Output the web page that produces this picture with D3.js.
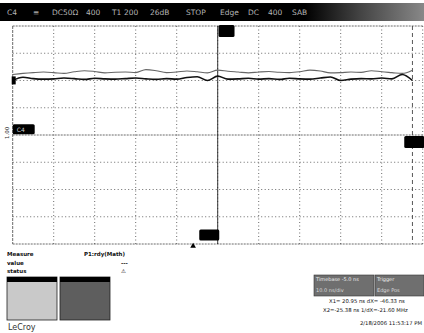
<!DOCTYPE html>
<html>
<head>
<meta charset="utf-8">
<script src="https://cdn.jsdelivr.net/npm/d3@7"></script>
<style>
  body { margin: 0; background: #fff; }
  svg { display: block; font-family: "DejaVu Sans", sans-serif; }
</style>
</head>
<body>
<svg id="scope" width="424" height="333"></svg>
<script>
// sample times (ns) and the two traces (mV)
const timeNs = [-50, -47.5, -45, -42.5, -40, -37.5, -35, -32.5, -30, -27.5,
  -25, -22.5, -20, -17.5, -15, -12.5, -10, -7.5, -5, -2.5,
  0, 2.5, 5, 7.5, 10, 12.5, 15, 17.5, 20, 22.5,
  25, 27.5, 30, 32.5, 35, 37.5, 40, 42.5, 45, 47.5];
const traceUpper = [222, 226, 229, 231, 229, 226, 232, 236, 233, 228,
  230, 231, 229, 240, 236, 229, 231, 235, 232, 228,
  238, 234, 231, 228, 231, 233, 230, 229, 232, 238,
  235, 228, 229, 231, 230, 236, 232, 229, 226, 238];
const traceLower = [200, 212, 207, 205, 206, 209, 207, 204, 208, 206,
  205, 207, 209, 206, 204, 207, 205, 211, 214, 200,
  216, 205, 206, 208, 205, 207, 204, 208, 206, 205,
  209, 213, 200, 205, 207, 206, 209, 206, 222, 200];

const xTicks = [-50, -40, -30, -20, -10, 0, 10, 20, 30, 40, 50];
const yTicks = [-400, -300, -200, -100, 0, 100, 200, 300, 400];

const headerTokens = ["C4", "\u2261", "DC50\u03a9", "400", "T1", "200", "26dB", "STOP", "Edge", "DC", "400", "SAB"];
const measureRows = [["Measure", "P1:rdy(Math)"], ["value", "---"], ["status", "\u26a0"]];
const cursorLines = ["X1= 20.95 ns    dX= -46.33 ns", "X2=-25.38 ns   1/dX=-21.60 MHz"];
const stamp = "2/18/2006 11:53:17 PM";

const svg = d3.select("#scope");
const x = d3.scaleLinear().domain([-50, 50]).range([12.7, 422.7]);
const y = d3.scaleLinear().domain([-400, 400]).range([244, 26]);

// header bar
const defs = svg.append("defs");
const grad = defs.append("linearGradient").attr("id", "hdr");
grad.append("stop").attr("offset", "0.72").attr("stop-color", "#000");
grad.append("stop").attr("offset", "0.85").attr("stop-color", "#444");
grad.append("stop").attr("offset", "1").attr("stop-color", "#888");
svg.append("rect").attr("x", 0).attr("y", 3).attr("width", 424).attr("height", 18).attr("fill", "url(#hdr)");
const hx = [7, 33, 52, 86, 112, 124, 150, 186, 220, 248, 268, 292];
svg.append("g").selectAll("text").data(headerTokens).join("text")
  .attr("x", (d, i) => hx[i]).attr("y", 15)
  .attr("fill", "#b5b5b5").attr("font-size", 7.5)
  .text(d => d);

// grid
const grid = svg.append("g").attr("stroke", "#444").attr("stroke-width", 0.8);
grid.selectAll("line.v").data(xTicks).join("line").attr("class", "v")
  .attr("x1", d => x(d)).attr("x2", d => x(d)).attr("y1", y(400)).attr("y2", y(-400))
  .attr("stroke-dasharray", d => d === -50 ? "3,1" : "1,2.5");
grid.selectAll("line.h").data(yTicks).join("line").attr("class", "h")
  .attr("y1", d => y(d)).attr("y2", d => y(d)).attr("x1", x(-50)).attr("x2", x(50))
  .attr("stroke-dasharray", d => (d === 400 || d === -400 || d === 0) ? "2,1" : "1,2.5");

// trigger time line and cursor
svg.append("line").attr("x1", x(0)).attr("x2", x(0)).attr("y1", y(400)).attr("y2", y(-400))
  .attr("stroke", "#222").attr("stroke-width", 0.9);
svg.append("line").attr("x1", x(47.5)).attr("x2", x(47.5)).attr("y1", y(400)).attr("y2", y(-400))
  .attr("stroke", "#444").attr("stroke-width", 0.9).attr("stroke-dasharray", "4,3");

// traces
const line = d3.line().x((d, i) => x(timeNs[i])).y(d => y(d)).curve(d3.curveMonotoneX);
svg.append("path").attr("d", line(traceUpper)).attr("fill", "none")
  .attr("stroke", "#666").attr("stroke-width", 1.1);
svg.append("path").attr("d", line(traceLower)).attr("fill", "none")
  .attr("stroke", "#111").attr("stroke-width", 1.6);

// channel markers
const markers = [
  { t: 0.2, v: 382, w: 16, h: 12 },
  { t: -4.5, v: -367, w: 20, h: 11 },
  { t: -50, v: 21, w: 22, h: 10 },
  { t: 45.5, v: -26, w: 20, h: 12 }
];
svg.append("g").selectAll("rect").data(markers).join("rect")
  .attr("x", d => x(d.t)).attr("y", d => y(d.v) - d.h / 2)
  .attr("width", d => d.w).attr("height", d => d.h).attr("rx", 1.5).attr("fill", "#000");
svg.append("rect").attr("x", x(-50) - 1).attr("y", y(215)).attr("width", 4).attr("height", 8).attr("fill", "#000");
svg.append("text").attr("x", x(-50) + 4).attr("y", y(21) + 2.5).attr("fill", "#ccc")
  .attr("font-size", 6).text("C4");
svg.append("path").attr("d", d3.symbol(d3.symbolTriangle, 14)())
  .attr("transform", `translate(${x(-6)},${y(-400) + 2})`).attr("fill", "#000");
svg.append("text").attr("transform", `translate(9,${y(-15)}) rotate(-90)`)
  .attr("font-size", 5.5).attr("fill", "#333").text("1.00");

// measurement table
const mt = svg.append("g").attr("font-size", 5.5).attr("font-weight", "bold").attr("fill", "#111");
measureRows.forEach((r, i) => {
  mt.append("text").attr("x", 7).attr("y", 256 + i * 8.5).text(r[0]);
  mt.append("text").attr("x", i === 0 ? 84 : 121).attr("y", 256 + i * 8.5).text(r[1]);
});

// zoom thumbnails
const thumbs = [{ x0: 7, fill: "#c9c9c9" }, { x0: 60, fill: "#5e5e5e" }];
svg.append("g").selectAll("rect.th").data(thumbs).join("rect").attr("class", "th")
  .attr("x", d => d.x0).attr("y", 277).attr("width", 50).attr("height", 43)
  .attr("fill", d => d.fill).attr("stroke", "#222").attr("stroke-width", 0.8);
svg.append("g").selectAll("rect.hd").data(thumbs).join("rect").attr("class", "hd")
  .attr("x", d => d.x0).attr("y", 277).attr("width", 50).attr("height", 5).attr("fill", "#000");

svg.append("text").attr("x", 8).attr("y", 330).attr("font-size", 8).attr("fill", "#333").text("LeCroy");

// timebase / trigger boxes
const boxes = [{ x0: 314, w: 60 }, { x0: 375, w: 49 }];
svg.append("g").selectAll("rect").data(boxes).join("rect")
  .attr("x", d => d.x0).attr("y", 275).attr("width", d => d.w).attr("height", 21)
  .attr("fill", "#6f6f6f").attr("stroke", "#333").attr("stroke-width", 0.6);
const boxText = [["Timebase -5.0 ns", "10.0 ns/div"], ["Trigger", "Edge Pos"]];
boxes.forEach((b, i) => {
  svg.append("text").attr("x", b.x0 + 2).attr("y", 281).attr("font-size", 5).attr("fill", "#eee").text(boxText[i][0]);
  svg.append("text").attr("x", b.x0 + 2).attr("y", 292).attr("font-size", 5).attr("fill", "#ddd").text(boxText[i][1]);
});
svg.append("g").selectAll("text").data(cursorLines).join("text")
  .attr("x", (d, i) => i === 0 ? 329 : 323).attr("y", (d, i) => 303 + i * 9)
  .attr("font-size", 5.3).attr("fill", "#111").text(d => d);
svg.append("text").attr("x", 422).attr("y", 325).attr("text-anchor", "end")
  .attr("font-size", 5.3).attr("fill", "#111").text(stamp);
</script>
</body>
</html>
